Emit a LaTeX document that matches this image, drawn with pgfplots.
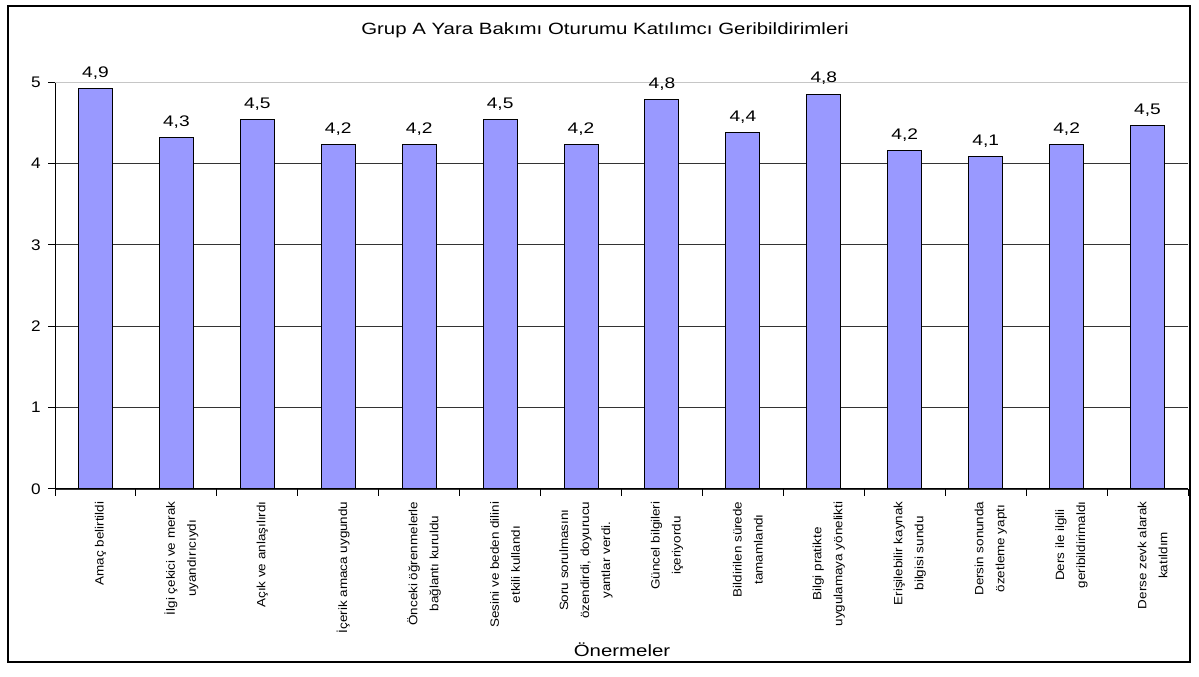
\documentclass[border=0pt]{standalone}
\usepackage{fontspec}
\setmainfont[FakeStretch=1.25]{Liberation Sans}
\newfontfamily\catfont[FakeStretch=1.12]{Liberation Sans}
\usepackage{pgfplots}
\usepackage{pgfplotstable}
\pgfplotsset{compat=1.18}
\definecolor{barblue}{HTML}{9999FF}
\pgfplotstableread{
x y lab
0 4.92 4,9
1 4.32 4,3
2 4.54 4,5
3 4.23 4,2
4 4.23 4,2
5 4.54 4,5
6 4.23 4,2
7 4.78 4,8
8 4.38 4,4
9 4.85 4,8
10 4.155 4,2
11 4.086 4,1
12 4.23 4,2
13 4.46 4,5
}\datatable
\begin{document}
\begin{tikzpicture}
\path[fill=white] (0pt,0pt) rectangle (719.4pt,406.2pt);
\draw[line width=0.9pt] (4.8pt,9pt) rectangle (714pt,402.6pt);
\node[font=\fontsize{9.8}{12}\selectfont] at (363pt,388.2pt) {Grup A Yara Bakımı Oturumu Katılımcı Geribildirimleri};
\node[font=\fontsize{9.8}{12}\selectfont] at (373.2pt,16.5pt) {Önermeler};
\begin{axis}[
  at={(33pt,112.8pt)}, anchor=south west,
  scale only axis, width=679.8pt, height=244.2pt,
  xmin=-0.5, xmax=13.5, ymin=0, ymax=5,
  axis x line=bottom, axis y line=left,
  axis line style={black, line width=0.6pt, -},
  ybar, bar width=0.42,
  ytick={0,1,2,3,4},
  extra y ticks={5},
  extra y tick style={grid style={gray!45, line width=0.6pt}},
  ymajorgrids, grid style={black!80, line width=0.5pt},
  tick style={black, line width=0.6pt},
  major tick length=4pt,
  tick align=outside,
  xtick={0,...,13},
  xtick style={draw=none},
  extra x ticks={-0.5,0.5,...,13.5},
  extra x tick labels={},
  extra x tick style={xtick style={draw=black}, grid=none},
  yticklabel style={font=\catfont\fontsize{9.2}{12}\selectfont, xshift=-1pt},
  /pgf/number format/assume math mode=true,
  xticklabels={
    {Amaç belirtildi},
    {İlgi çekici ve merak\\uyandırıcıydı},
    {Açık ve anlaşılırdı},
    {İçerik amaca uygundu},
    {Önceki öğrenmelerle\\bağlantı kuruldu},
    {Sesini ve beden dilini\\etkili kullandı},
    {Soru sorulmasını\\özendirdi, doyurucu\\yantlar verdi.},
    {Güncel bilgileri\\içeriyordu},
    {Bildirilen sürede\\tamamlandı},
    {Bilgi pratikte\\uygulamaya yönelikti},
    {Erişilebilir kaynak\\bilgisi sundu},
    {Dersin sonunda\\özetleme yaptı},
    {Ders ile ilgili\\geribildirimaldı},
    {Derse zevk alarak\\katıldım}
  },
  xticklabel style={rotate=90, anchor=east, align=center, font=\catfont\fontsize{7.2}{12.6}\selectfont, yshift=-3pt},
  nodes near coords={\pgfplotspointmeta},
  point meta=explicit symbolic,
  nodes near coords style={font=\fontsize{9.2}{10}\selectfont, anchor=south, yshift=2pt},
]
\addplot[draw=black, fill=barblue, line width=0.6pt] table[x=x, y=y, meta=lab] {\datatable};
\end{axis}
\end{tikzpicture}
\end{document}
